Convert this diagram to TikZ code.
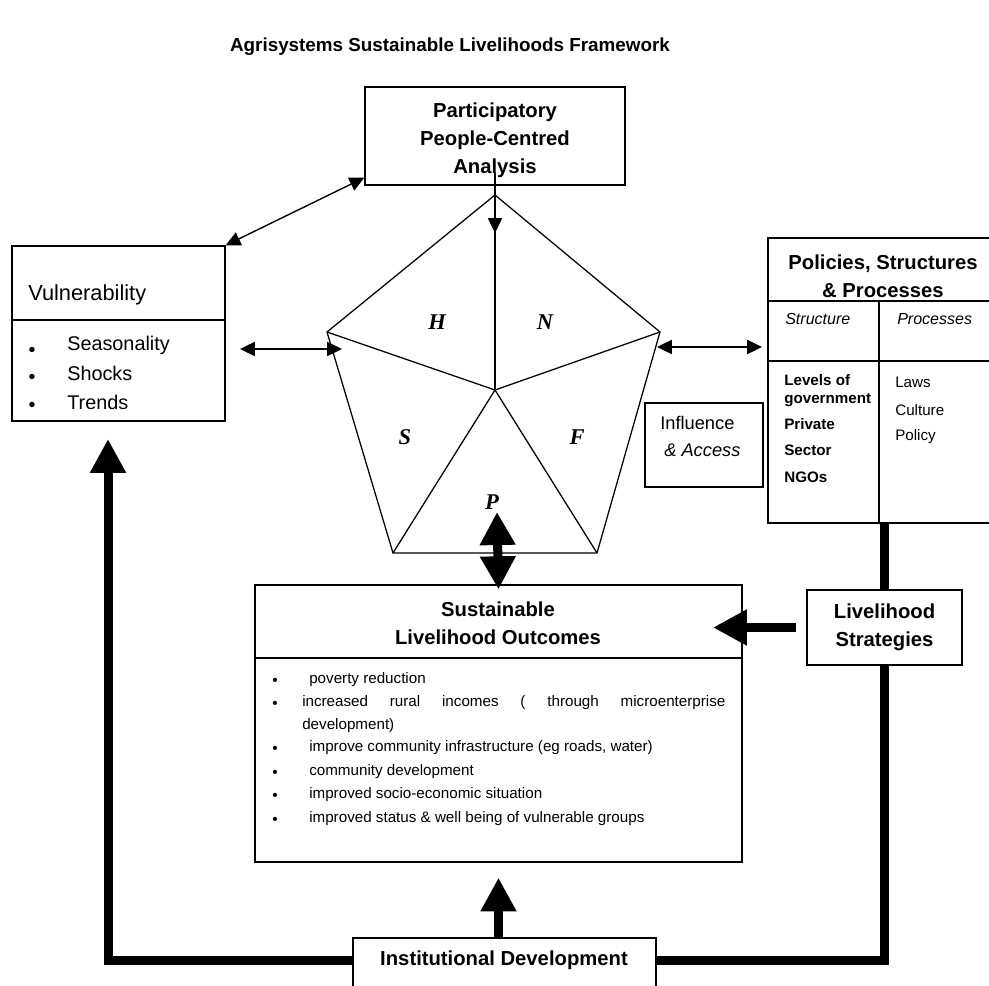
\documentclass[tikz,border=0pt]{standalone}
\usepackage{fontspec}
\setmainfont{Liberation Sans}
\newfontfamily\capitalfont{Liberation Serif}
\usetikzlibrary{arrows.meta}

\newdimen\pxu
\pxu=0.025cm

\tikzset{
  frame/.style={draw, line width=0.9pt, inner sep=0pt},
  boxsize/.style 2 args={minimum width=#1*\pxu, minimum height=#2*\pxu},
  titletext/.style={font=\fontsize{13.4}{16}\selectfont\bfseries, inner sep=0pt},
  heading/.style={font=\fontsize{14.4}{19.85}\selectfont\bfseries, align=center, inner sep=0pt},
  item/.style={anchor=west, inner sep=0pt},
  small/.style={font=\fontsize{10.8}{13}\selectfont},
  smallbold/.style={font=\fontsize{10.8}{13}\selectfont\bfseries},
  dot/.style={inner sep=0pt, font=\fontsize{11}{13}\selectfont},
  bigdot/.style={inner sep=0pt, font=\fontsize{14}{16}\selectfont},
  capital/.style={inner sep=0pt, font=\fontsize{16}{18}\selectfont\capitalfont\bfseries\itshape},
  pent/.style={line width=0.9pt, line join=miter},
  conn/.style={line width=1pt, {Triangle[length=10.5pt,width=10pt]}-{Triangle[length=10.5pt,width=10pt]}},
  single/.style={line width=1pt, -{Triangle[length=10.5pt,width=10pt]}},
  bigline/.style={line width=6.4pt, line join=miter},
  bigarrow/.style={bigline, -{Triangle[length=24pt,width=24pt]}},
  bigboth/.style={bigline, {Triangle[length=23.5pt,width=24pt]}-{Triangle[length=23.5pt,width=24pt]}}
}

\begin{document}
\begin{tikzpicture}[x=0.025cm, y=-0.025cm]
\clip (0,0) rectangle (989,986);

% title
\node[titletext] (title) at (450,47) {Agrisystems Sustainable Livelihoods Framework};

% participatory analysis
\node[frame, boxsize={260}{98}] (ppca) at (495,136) {};
\node[heading] (ppcatext) at (495,140) {Participatory\\People-Centred\\Analysis};

% vulnerability context
\node[frame, boxsize={213}{74}] (vulnhead) at (118.5,283) {};
\node[frame, boxsize={213}{101}] (vulnbody) at (118.5,370.5) {};
\node[item, font=\fontsize{15.5}{18}\selectfont] (vulntext) at (28,295) {Vulnerability};
\foreach \txt [count=\i] in {Seasonality, Shocks, Trends}
  {\node[bigdot] (vdot\i) at (32,324+27.5*\i) {\textbullet};
   \node[item, font=\fontsize{14.1}{17}\selectfont] (vitem\i) at (67,316.5+28.5*\i) {\txt};}

% asset pentagon
\coordinate (pa) at (495,195);
\coordinate (pr) at (660,332);
\coordinate (pbr) at (597,553);
\coordinate (pbl) at (393,553);
\coordinate (pl) at (327,332);
\coordinate (pc) at (495,390);
\draw[pent] (pa) -- (pr) -- (pbr) -- (pbl) -- (pl) -- cycle;
\foreach \v in {pa, pr, pbr, pbl, pl}
  \draw[pent] (pc) -- (\v);
\node[capital] (capH) at (437,322) {H};
\node[capital] (capN) at (545,322) {N};
\node[capital] (capS) at (405,437) {S};
\node[capital] (capF) at (577,437) {F};
\node[capital] (capP) at (492,502) {P};

% policies, structures and processes
\node[frame, boxsize={230}{63}] (polhead) at (883,269.5) {};
\node[frame, boxsize={111}{60}] (strhead) at (823.5,331) {};
\node[frame, boxsize={119}{60}] (prohead) at (938.5,331) {};
\node[frame, boxsize={111}{162}] (strbody) at (823.5,442) {};
\node[frame, boxsize={119}{162}] (probody) at (938.5,442) {};
\node[heading] (poltext) at (883,276) {Policies, Structures\\\& Processes};
\node[item, font=\fontsize{11.4}{13}\selectfont\itshape] (strtext) at (785,319) {Structure};
\node[item, font=\fontsize{11.4}{13}\selectfont\itshape] (protext) at (897,319) {Processes};
\foreach \y/\txt [count=\i] in {380/Levels of, 400/government, 424/Private, 450/Sector, 477/NGOs}
  \node[item, smallbold] (str\i) at (784,\y) {\txt};
\foreach \y/\txt [count=\i] in {382/Laws, 410/Culture, 437/Policy}
  \node[item, small] (pro\i) at (895,\y) {\txt};

% influence and access
\node[frame, boxsize={118}{84}] (infl) at (704,445) {};
\node[item, font=\fontsize{13}{15}\selectfont] (infltext) at (660,423) {Influence};
\node[item, font=\fontsize{13}{15}\selectfont\itshape] (acctext) at (664,450) {\& Access};

% outcomes
\node[frame, boxsize={487}{73}] (outhead) at (498.5,621.5) {};
\node[frame, boxsize={487}{204}] (outbody) at (498.5,760) {};
\node[heading] (outtext) at (498,623.5) {Sustainable\\Livelihood Outcomes};
\foreach \y in {680,703,748,772,795,819}
  \node[dot] (odot\y) at (275,\y+1.5) {\textbullet};
\foreach \y/\txt [count=\i] in {680/{poverty reduction}, 748/{improve community infrastructure (eg roads, water)},
    772/{community development}, 795/{improved socio-economic situation},
    819/{improved status \& well being of vulnerable groups}}
  \node[item, small] (oitem\i) at (309,\y) {\txt};
\node[item, small] (oincome) at (302,703) {\makebox[10.575cm][s]{increased rural incomes ( through microenterprise}};
\node[item, small] (oincomeb) at (302,726) {development)};

% livelihood strategies
\node[frame, heading, boxsize={155}{75}] (ls) at (884.5,627.5) {Livelihood\\Strategies};

% institutional development
\node[frame, boxsize={303}{62}] (id) at (504.5,969) {};
\node[heading] (idtext) at (504,960) {Institutional Development};

% thin connectors
\coordinate (vright) at (240,349);
\coordinate (pleft) at (342,349);
\coordinate (pright) at (657,347);
\coordinate (polleft) at (762,347);
\coordinate (patip) at (495,233);
\draw[conn] ([yshift=8*\pxu]ppca.south west) -- (vulnhead.north east);
\draw[conn] (vright) -- (pleft);
\draw[conn] (pright) -- (polleft);
\draw[single] ([yshift=13*\pxu]ppca.south) -- (patip);

% thick connectors
\coordinate (ptop) at (497,512);
\coordinate (lstip) at (713,627.5);
\coordinate (vtip) at (108,439);
\draw[bigboth] (ptop) -- ([yshift=-5*\pxu]outhead.north);
\draw[bigarrow] ([xshift=-10*\pxu]ls.west) -- (lstip);
\draw[bigline] (ls.north) -- (ls.north |- strbody.south);
\draw[bigline] (ls.south) |- (id.east |- idtext);
\draw[bigarrow] (id.west |- idtext) -| (vtip);
\draw[bigarrow] (outbody.south |- id.north) -- ([yshift=-15*\pxu]outbody.south);

\end{tikzpicture}
\end{document}
